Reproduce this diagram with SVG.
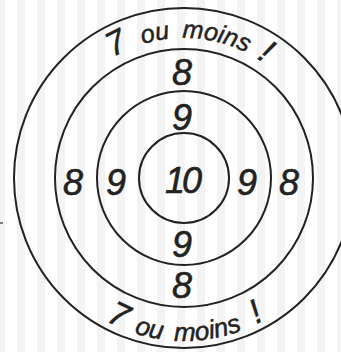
<svg xmlns="http://www.w3.org/2000/svg" xmlns:xlink="http://www.w3.org/1999/xlink" width="341" height="352" viewBox="0 0 341 352">
<style>
.ring{fill:none;stroke:#222;stroke-width:2}
.num{font-family:"Liberation Sans",Arial,sans-serif;font-style:italic;font-size:36px;fill:#222;stroke:#222;stroke-width:0.6;text-anchor:middle}
.lbl{font-family:"Liberation Sans",Arial,sans-serif;font-style:italic;font-size:25px;fill:#222;stroke:#222;stroke-width:0.5}
.lblb{font-size:26px}
.big{font-size:34px}
</style>
<defs>
<pattern id="stripes" patternUnits="userSpaceOnUse" x="-3" y="0" width="20" height="352">
<rect x="0" y="0" width="8" height="352" fill="#f3f3f3"/>
</pattern>
<path id="arcTop" d="M 44 178 A 140 140 0 0 1 324 178"/>
<path id="arcBot" d="M 21 178 A 163 163 0 0 0 347 178"/>
</defs>
<rect width="341" height="352" fill="#fff"/>
<rect width="341" height="352" fill="url(#stripes)"/>
<line x1="0" y1="223" x2="3" y2="223" stroke="#555" stroke-width="1.5"/>
<g id="connectors"></g>
<g id="ring7">
<circle class="ring" cx="184" cy="178" r="170"/>
<text class="lbl"><textPath xlink:href="#arcTop" startOffset="145" class="big">7</textPath></text>
<text class="lbl"><textPath xlink:href="#arcTop" startOffset="178">ou</textPath></text>
<text class="lbl"><textPath xlink:href="#arcTop" startOffset="218">moins</textPath></text>
<text class="lbl"><textPath xlink:href="#arcTop" startOffset="296" class="big">!</textPath></text>
<text class="lbl"><textPath xlink:href="#arcBot" startOffset="174" class="big">7</textPath></text>
<text class="lbl lblb"><textPath xlink:href="#arcBot" startOffset="205">ou</textPath></text>
<text class="lbl lblb"><textPath xlink:href="#arcBot" startOffset="246">moins</textPath></text>
<text class="lbl"><textPath xlink:href="#arcBot" startOffset="331" class="big">!</textPath></text>
</g>
<g id="ring8">
<circle class="ring" cx="184" cy="178" r="129"/>
<text class="num" x="182" y="85">8</text>
<text class="num" x="182" y="298">8</text>
<text class="num" x="73" y="195">8</text>
<text class="num" x="289" y="195">8</text>
</g>
<g id="ring9">
<circle class="ring" cx="184" cy="178" r="87"/>
<text class="num" x="182" y="130">9</text>
<text class="num" x="182" y="257">9</text>
<text class="num" x="116" y="195">9</text>
<text class="num" x="247" y="195">9</text>
</g>
<g id="center10">
<circle class="ring" cx="184" cy="178" r="45"/>
<text class="num" x="182" y="193" letter-spacing="-3">10</text>
</g>
</svg>
